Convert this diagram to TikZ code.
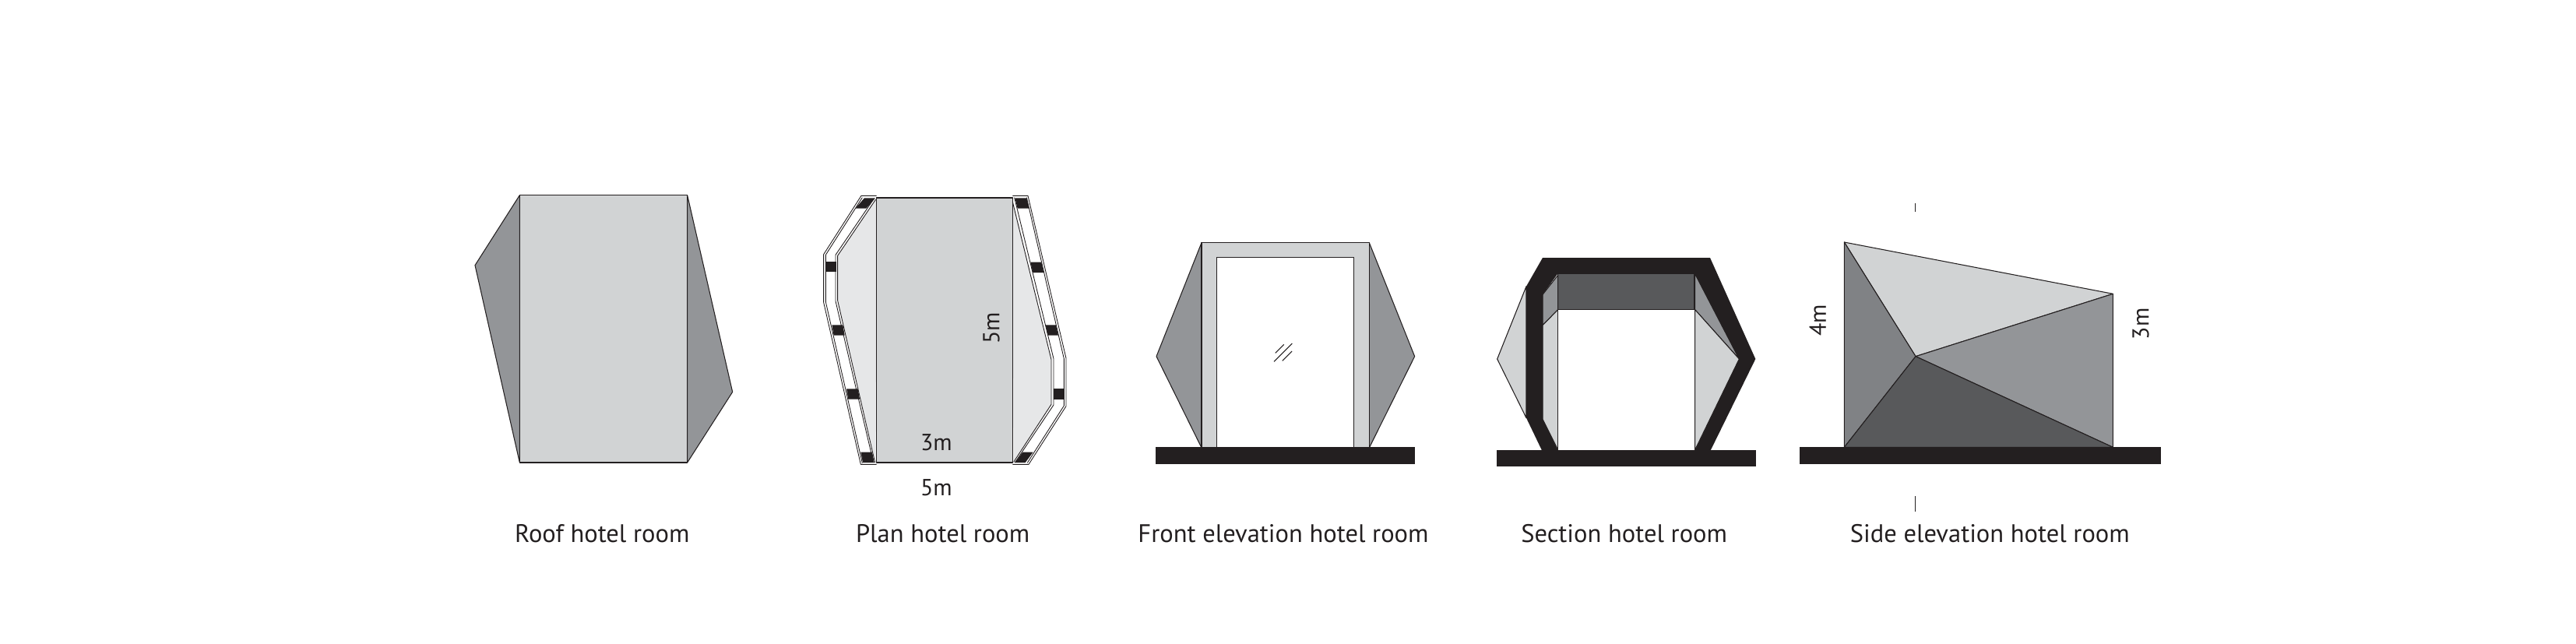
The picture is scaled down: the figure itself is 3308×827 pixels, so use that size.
\documentclass[tikz,border=0pt]{standalone}
\usepackage{fontspec}
\setmainfont{PT Sans}
\usepackage{tikz}
\definecolor{inkblack}{HTML}{231F20}
\definecolor{palegrey}{HTML}{E6E7E8}
\definecolor{lightgrey}{HTML}{D1D3D4}
\definecolor{midgrey}{HTML}{939598}
\definecolor{sidegrey}{HTML}{808285}
\definecolor{darkgrey}{HTML}{58595B}
\tikzset{
	line/.style={draw=inkblack,line width=0.3pt,line join=round},
	wall/.style={draw=inkblack,line width=0.25pt,line join=round},
	lightface/.style={line,fill=lightgrey},
	midface/.style={line,fill=midgrey},
	sideface/.style={line,fill=sidegrey},
	darkface/.style={line,fill=darkgrey},
	doorface/.style={line,fill=white},
	slab/.style={fill=inkblack},
	caption/.style={text=inkblack,font=\fontsize{9.25}{11}\selectfont,anchor=base,inner sep=0pt},
	size/.style={text=inkblack,font=\fontsize{8.5}{10}\selectfont,inner sep=0pt}
}
\begin{document}
\begin{tikzpicture}[x=0.01cm,y=-0.01cm]
	\useasboundingbox (0,0) rectangle (3308,827);
	\begin{scope}[shift={(580,220)},scale=1/3]
		\draw [midface] (262,92) -- (90,362) -- (262,1122) -- cycle;
		\draw [midface] (908,92) -- (1082,850) -- (908,1122) -- cycle;
		\draw [lightface] (262,92) rectangle (908,1122);
		\node [caption] (roofcap) at (580,1430) {Roof hotel room};
	\end{scope}
	\begin{scope}[shift={(1030,220)},scale=1/3]
		\fill [palegrey] (287,105) -- (136,325) -- (136,498) -- (283,1122) -- cycle;
		\fill [palegrey] (811,105) -- (961,725) -- (961,898) -- (815,1122) -- cycle;
		\draw [lightface] (287,102) rectangle (811,1122);
		\draw [inkblack,line width=0.75pt] (287,102) -- (811,102);
		\draw [inkblack,line width=0.75pt] (287,1122) -- (811,1122);
		\foreach \x/\y/\w/\s in {240/103/42/-35,90/348/41/0,115/592/42/7,171/838/44/7,226/1082/44/8,820/103/45/10,880/350/42/9,938/592/40/9,968/838/40/0,850/1082/40/-30} {
			\fill [inkblack] (\x,\y) -- ++(\w,0) -- ++(\s,40) -- ++(-\w,0) -- cycle;
		}
		\draw [wall] (287,94) -- (228,94) -- (83,320) -- (83,505) -- (226,1129) -- (287,1129);
		\draw [wall] (232,101) -- (91,322) -- (91,503) -- (232,1124);
		\draw [wall] (277,105) -- (129,322) -- (129,500) -- (275,1122);
		\draw [wall] (284,108) -- (137,325) -- (137,498) -- (281,1122);
		\draw [wall] (811,94) -- (870,94) -- (1017,720) -- (1017,905) -- (873,1129) -- (811,1129);
		\draw [wall] (865,101) -- (1009,722) -- (1009,903) -- (868,1123);
		\draw [wall] (818,101) -- (969,722) -- (969,900) -- (820,1122);
		\draw [wall] (811,118) -- (960,725) -- (960,898) -- (815,1120);
		\node [size,rotate=90] (planheight) at (729,605) {5m};
		\node [size] (planinner) at (517,1045) {3m};
		\node [size] (planwidth) at (517,1218) {5m};
		\node [caption] (plancap) at (542,1430) {Plan hotel room};
	\end{scope}
	\begin{scope}[shift={(1460,280)},scale=1/3]
		\draw [midface] (249,95) -- (75,533) -- (249,885) -- cycle;
		\draw [midface] (895,95) -- (1070,533) -- (895,885) -- cycle;
		\draw [lightface] (249,95) rectangle (895,885);
		\draw [doorface] (307,151) rectangle (835,885);
		\fill [slab] (72,882) rectangle (1071,947);
		\foreach \xa/\ya/\xb/\yb in {533/520/566/487,528/553/598/483,560/550/597/513} {
			\draw [line] (\xa,\ya) -- (\xb,\yb);
		}
		\node [caption] (frontcap) at (564,1250) {Front elevation hotel room};
	\end{scope}
	\begin{scope}[shift={(1900,300)},scale=1/3]
		\draw [lightface] (180,203) -- (68,483) -- (180,710) -- cycle;
		\draw [darkface] (302,153) rectangle (828,293);
		\draw [midface] (243,235) -- (302,160) -- (302,293) -- (243,353) -- cycle;
		\draw [lightface] (243,353) -- (302,293) -- (302,833) -- (243,715) -- cycle;
		\draw [midface] (830,155) -- (1000,483) -- (830,293) -- cycle;
		\draw [lightface] (830,293) -- (1000,483) -- (830,833) -- cycle;
		\draw [doorface] (302,293) rectangle (830,835);
		\fill [slab,even odd rule] (243,93) -- (888,93) -- (1063,483) -- (890,835) -- (240,835) -- (180,710) -- (180,203) -- cycle
			(302,153) -- (828,153) -- (1000,483) -- (830,835) -- (302,835) -- (243,715) -- (243,235) -- cycle;
		\fill [slab] (66,835) rectangle (1065,896);
		\node [caption] (sectioncap) at (557,1190) {Section hotel room};
	\end{scope}
	\begin{scope}[shift={(2300,240)},scale=1/3]
		\draw [lightface] (205,213) -- (1240,412) -- (480,653) -- cycle;
		\draw [sideface] (205,213) -- (480,653) -- (205,1003) -- cycle;
		\draw [midface] (1240,412) -- (1240,1003) -- (480,653) -- cycle;
		\draw [darkface] (480,653) -- (1240,1003) -- (205,1003) -- cycle;
		\fill [slab] (33,1003) rectangle (1425,1068);
		\draw [line] (478,62) -- (478,95);
		\draw [line] (478,1192) -- (478,1250);
		\node [size,rotate=90] (sideleft) at (103,515) {4m};
		\node [size,rotate=90] (sideright) at (1347,528) {3m};
		\node [caption] (sidecap) at (766,1370) {Side elevation hotel room};
	\end{scope}
\end{tikzpicture}
\end{document}
